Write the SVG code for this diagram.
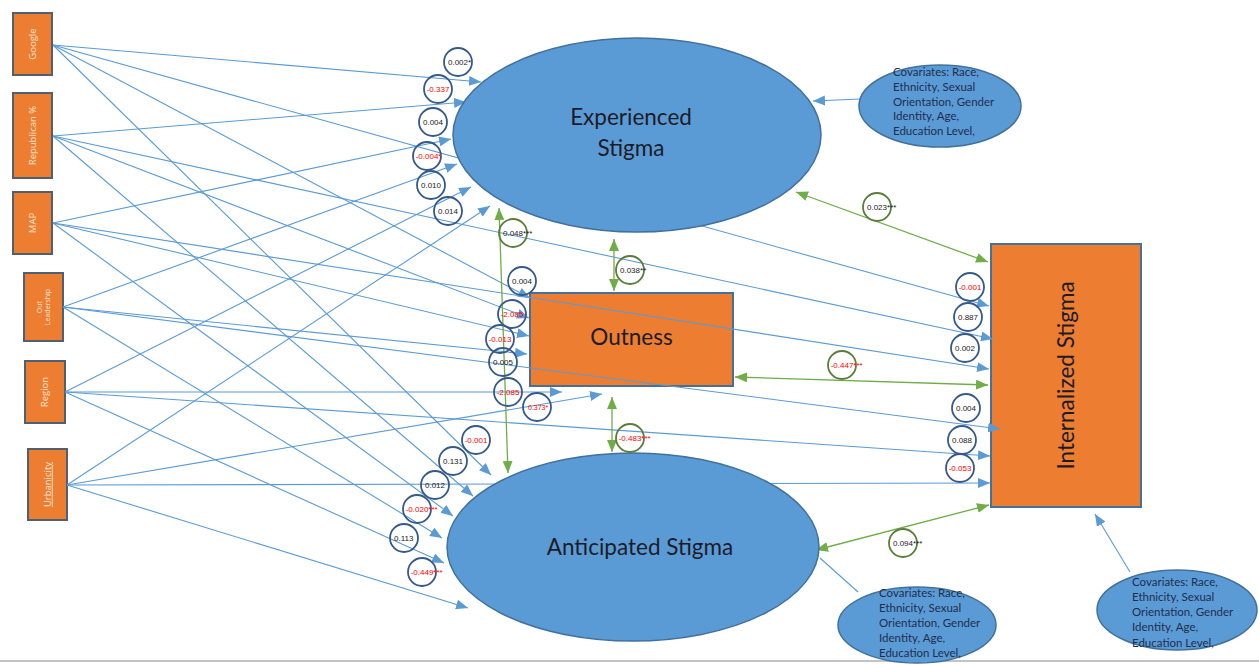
<svg xmlns="http://www.w3.org/2000/svg" width="1259" height="665" viewBox="0 0 1259 665">
<style>
.pred{fill:#ed7d31;stroke:#4e6172;stroke-width:2}
.predt{fill:#fbe5d6;font-family:"Open Sans","Liberation Sans",sans-serif;font-size:9.5px;text-anchor:middle}
.ell{fill:#5b9bd5;stroke:#41719c;stroke-width:1.5}
.box{fill:#ed7d31;stroke:#41719c;stroke-width:2}
.big{fill:#1c1c28;font-family:Lato,"Liberation Sans",sans-serif;font-size:22.5px;text-anchor:middle}
.cov{fill:#1f2d50;font-family:Lato,"Liberation Sans",sans-serif;font-size:11.5px}
.bl{stroke:#5b9bd5;stroke-width:1.1;fill:none;marker-end:url(#ab)}
.gr{stroke:#70ad47;stroke-width:1.3;fill:none;marker-start:url(#ag);marker-end:url(#ag)}
.cb{fill:none;stroke:#35598a;stroke-width:1.8}
.cg{fill:none;stroke:#5a7d3a;stroke-width:1.8}
.lb{font-family:"Liberation Sans",Arial,sans-serif;font-size:8px;fill:#1a1a1a}
.red{fill:#ff0000}
</style>
<defs>
<marker id="ab" viewBox="0 0 12 10" refX="12" refY="5" markerWidth="12" markerHeight="10" markerUnits="userSpaceOnUse" orient="auto"><path d="M0,0 L12,5 L0,10 z" fill="#5b9bd5"/></marker>
<marker id="ag" viewBox="0 0 12 10" refX="12" refY="5" markerWidth="12" markerHeight="10" markerUnits="userSpaceOnUse" orient="auto-start-reverse"><path d="M0,0 L12,5 L0,10 z" fill="#70ad47"/></marker>
</defs>
<rect width="1259" height="665" fill="#ffffff"/>
<line x1="0" y1="661" x2="1259" y2="661" stroke="#c4c4c4" stroke-width="2"/>

<g id="google"><rect class="pred" x="13" y="13" width="39" height="62"/><text class="predt" x="32.5" y="44" dy="0.35em" transform="rotate(-90 32.5 44)">Google</text></g>
<g id="republican"><rect class="pred" x="13" y="93" width="39" height="85"/><text class="predt" x="32.5" y="135.5" dy="0.35em" transform="rotate(-90 32.5 135.5)">Republican %</text></g>
<g id="map"><rect class="pred" x="13" y="192" width="39" height="62"/><text class="predt" x="32.5" y="223" dy="0.35em" transform="rotate(-90 32.5 223)">MAP</text></g>
<g id="outleadership"><rect class="pred" x="24" y="273" width="39" height="68"/><text class="predt" style="font-size:7px" transform="rotate(-90 43.5 307)"><tspan x="43.5" y="305">Out</tspan><tspan x="43.5" y="313.5">Leadership</tspan></text></g>
<g id="region"><rect class="pred" x="25" y="361" width="40" height="62"/><text class="predt" x="45" y="392" dy="0.35em" transform="rotate(-90 45 392)">Region</text></g>
<g id="urbanicity"><rect class="pred" x="28" y="449" width="39" height="71"/><text class="predt" x="47.5" y="484.5" dy="0.35em" transform="rotate(-90 47.5 484.5)" text-decoration="underline">Urbanicity</text></g>

<g id="outness"><rect class="box" x="530" y="293" width="203" height="93"/><text class="big" x="631.5" y="345">Outness</text></g>
<g id="internalized"><rect class="box" x="991" y="244" width="150" height="263"/><text class="big" x="1066" y="375.5" dy="0.35em" transform="rotate(-90 1066 375.5)">Internalized Stigma</text></g>

<g id="connectors">
<!-- to Experienced -->
<line class="bl" x1="53" y1="45" x2="481" y2="82"/>
<line class="bl" x1="53" y1="136" x2="466" y2="102"/>
<line class="bl" x1="53" y1="223" x2="451" y2="139"/>
<line class="bl" x1="63" y1="307" x2="457" y2="164"/>
<line class="bl" x1="65" y1="392" x2="471" y2="187"/>
<line class="bl" x1="67" y1="485" x2="490" y2="206"/>
<!-- to Outness -->
<line class="bl" x1="53" y1="45" x2="530" y2="298"/>
<line class="bl" x1="53" y1="136" x2="529" y2="318"/>
<line class="bl" x1="53" y1="223" x2="529" y2="336"/>
<line class="bl" x1="63" y1="307" x2="527" y2="354"/>
<line class="bl" x1="65" y1="392" x2="562" y2="392"/>
<line class="bl" x1="67" y1="485" x2="602" y2="394"/>
<!-- to Anticipated -->
<line class="bl" x1="53" y1="45" x2="491" y2="475"/>
<line class="bl" x1="53" y1="136" x2="473" y2="496"/>
<line class="bl" x1="53" y1="223" x2="453" y2="516"/>
<line class="bl" x1="63" y1="307" x2="442" y2="538"/>
<line class="bl" x1="65" y1="392" x2="444" y2="563"/>
<line class="bl" x1="67" y1="485" x2="468" y2="608"/>
<!-- to Internalized -->
<line class="bl" x1="53" y1="45" x2="989" y2="306"/>
<line class="bl" x1="53" y1="136" x2="993" y2="339"/>
<line class="bl" x1="53" y1="223" x2="989" y2="369"/>
<line class="bl" x1="63" y1="307" x2="1000" y2="429"/>
<line class="bl" x1="65" y1="392" x2="990" y2="456"/>
<line class="bl" x1="67" y1="485" x2="990" y2="483"/>
<!-- covariates -->
<line class="bl" x1="860" y1="99" x2="813" y2="101"/>
<line x1="858" y1="592" x2="820" y2="558" stroke="#5b9bd5" stroke-width="1.1"/>
<line class="bl" x1="1130" y1="572" x2="1095" y2="514"/>
<!-- correlations -->
<line class="gr" x1="796" y1="192" x2="988" y2="262"/>
<line class="gr" x1="614" y1="239" x2="614" y2="291"/>
<line class="gr" x1="499" y1="208" x2="508" y2="473"/>
<line class="gr" x1="735" y1="377" x2="988" y2="385"/>
<line class="gr" x1="612" y1="397" x2="612" y2="452"/>
<line class="gr" x1="816" y1="550" x2="989" y2="505"/>
</g>

<g id="experienced"><ellipse class="ell" cx="637" cy="135" rx="184" ry="97"/><text class="big" x="631" y="125">Experienced</text><text class="big" x="631" y="156">Stigma</text></g>
<g id="anticipated"><ellipse class="ell" cx="633" cy="547" rx="186" ry="94"/><text class="big" x="640" y="555">Anticipated Stigma</text></g>

<g id="cov1"><ellipse class="ell" cx="940" cy="106" rx="81" ry="41"/><text class="cov"><tspan x="893" y="76">Covariates: Race,</tspan><tspan x="893" y="91">Ethnicity, Sexual</tspan><tspan x="893" y="106">Orientation, Gender</tspan><tspan x="893" y="120">Identity, Age,</tspan><tspan x="893" y="135">Education Level,</tspan></text></g>
<g id="cov2"><ellipse class="ell" cx="917" cy="625" rx="79" ry="38"/><text class="cov"><tspan x="879" y="597">Covariates: Race,</tspan><tspan x="879" y="612">Ethnicity, Sexual</tspan><tspan x="879" y="627">Orientation, Gender</tspan><tspan x="879" y="642">Identity, Age,</tspan><tspan x="879" y="657">Education Level,</tspan></text></g>
<g id="cov3"><ellipse class="ell" cx="1177" cy="610" rx="80" ry="40"/><text class="cov"><tspan x="1132" y="586">Covariates: Race,</tspan><tspan x="1132" y="601">Ethnicity, Sexual</tspan><tspan x="1132" y="616">Orientation, Gender</tspan><tspan x="1132" y="631">Identity, Age,</tspan><tspan x="1132" y="647">Education Level,</tspan></text></g>

<g id="coefficients">
<circle class="cb" cx="458" cy="62" r="14"/><text class="lb" x="448" y="65">0.002*</text>
<circle class="cb" cx="438" cy="89" r="14"/><text class="lb red" x="426.7" y="92">-0.337</text>
<circle class="cb" cx="433" cy="122" r="14"/><text class="lb" x="423" y="125">0.004</text>
<circle class="cb" cx="427" cy="156" r="14"/><text class="lb red" x="415.7" y="159">-0.004*</text>
<circle class="cb" cx="431" cy="185" r="14"/><text class="lb" x="421" y="188">0.010</text>
<circle class="cb" cx="448" cy="211" r="14"/><text class="lb" x="438" y="214">0.014</text>

<circle class="cb" cx="522" cy="281" r="14"/><text class="lb" x="512" y="284">0.004</text>
<circle class="cb" cx="512" cy="314" r="14"/><text class="lb red" x="500.7" y="317">-2.085</text>
<circle class="cb" cx="500" cy="339" r="14"/><text class="lb red" x="488.7" y="342">-0.013</text>
<circle class="cb" cx="503" cy="362" r="14"/><text class="lb" x="493" y="365">0.005</text>
<circle class="cb" cx="508" cy="392" r="14"/><text class="lb red" x="496.7" y="395">-2.085</text>
<circle class="cb" cx="537" cy="407" r="14"/><text class="lb red" x="528" y="410" style="font-size:7px">0.373*</text>

<circle class="cb" cx="476" cy="440" r="14"/><text class="lb red" x="464.7" y="443">-0.001</text>
<circle class="cb" cx="453" cy="461" r="14"/><text class="lb" x="443" y="464">0.131</text>
<circle class="cb" cx="435" cy="485" r="14"/><text class="lb" x="425" y="488">0.012</text>
<circle class="cb" cx="417" cy="509" r="14"/><text class="lb red" x="405.7" y="512">-0.020***</text>
<circle class="cb" cx="404" cy="538" r="14"/><text class="lb" x="394" y="541">0.113</text>
<circle class="cb" cx="422" cy="572" r="14"/><text class="lb red" x="410.7" y="575">-0.449***</text>

<circle class="cb" cx="970" cy="287" r="14"/><text class="lb red" x="958.7" y="290">-0.001</text>
<circle class="cb" cx="968" cy="317" r="14"/><text class="lb" x="958" y="320">0.887</text>
<circle class="cb" cx="965" cy="348" r="14"/><text class="lb" x="955" y="351">0.002</text>
<circle class="cb" cx="966" cy="408" r="14"/><text class="lb" x="956" y="411">0.004</text>
<circle class="cb" cx="962" cy="440" r="14"/><text class="lb" x="952" y="443">0.088</text>
<circle class="cb" cx="960" cy="468" r="14"/><text class="lb red" x="948.7" y="471">-0.053</text>

<circle class="cg" cx="877" cy="207" r="14"/><text class="lb" x="867" y="210">0.023***</text>
<circle class="cg" cx="630" cy="270" r="14"/><text class="lb" x="620" y="273">0.038**</text>
<circle class="cg" cx="513" cy="233" r="14"/><text class="lb" x="503" y="236">0.048***</text>
<circle class="cg" cx="842" cy="365" r="14"/><text class="lb red" x="830.7" y="368">-0.447***</text>
<circle class="cg" cx="630" cy="438" r="14"/><text class="lb red" x="618.7" y="441">-0.483***</text>
<circle class="cg" cx="903" cy="543" r="14"/><text class="lb" x="893" y="546">0.094***</text>
</g>
</svg>
